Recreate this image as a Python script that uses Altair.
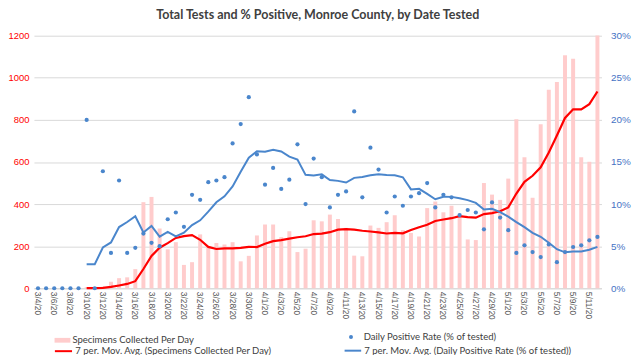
import altair as alt
import pandas as pd

# Category labels: one per day from 3/4/20 to 5/12/20
dates = [f"{d.month}/{d.day}/20" for d in pd.date_range("2020-03-04", "2020-05-12")]

# Specimens collected per day
specimens = [
    0, 0, 0, 0, 0, 0, 5, 2, 7, 31,
    48, 52, 91, 409, 434, 284, 185, 219, 111, 124,
    256, 196, 215, 208, 219, 128, 154, 251, 303, 303,
    243, 271, 172, 188, 323, 318, 350, 329, 287, 155,
    152, 298, 287, 314, 347, 276, 263, 246, 381, 412,
    361, 392, 342, 232, 229, 500, 445, 420, 521, 803,
    623, 430, 779, 943, 980, 1107, 1090, 623, 601, 1201,
]

# Daily positive rate, % of tested
pos_rate = [
    0, 0, 0, 0, 0, 0, 20.0, 0, 13.9, 4.2,
    12.8, 4.2, 4.8, 6.5, 5.4, 5.0, 8.2, 9.0, 7.3, 11.1,
    10.5, 12.6, 12.8, 13.2, 17.2, 19.5, 22.7, 15.9, 12.3, 14.3,
    11.8, 12.9, 17.1, 10.0, 15.4, 13.2, 9.6, 11.1, 11.5, 21.0,
    10.8, 16.7, 14.1, 9.0, 10.9, 9.8, 10.9, 11.3, 12.5, 9.6,
    11.1, 10.8, 8.7, 9.3, 9.0, 7.0, 10.2, 8.4, 6.9, 4.2,
    5.1, 4.3, 3.7, 5.2, 3.1, 4.3, 4.9, 5.1, 5.7, 6.1,
]

left_ticks = [0, 200, 400, 600, 800, 1000, 1200]
right_ticks = [0, 5, 10, 15, 20, 25, 30]

df = pd.DataFrame({"idx": list(range(len(dates))), "date": dates,
                   "spec": specimens, "rate": pos_rate})

W, H = 573, 255
FONT = "Lato"
AXFONT = "Liberation Sans"
PINK = "#FFCCCC"
RED = "#FF0000"
BLUE = "#4A86CC"

xenc = alt.X(
    "date:O", sort=None,
    scale=alt.Scale(domain=dates, paddingInner=0, paddingOuter=0),
    axis=alt.Axis(values=dates[::2], labelAngle=90, labelFont=AXFONT,
                  labelFontSize=8.5, labelColor="#595959", ticks=False,
                  domainColor="#D9D9D9", grid=False, title=None,
                  labelPadding=3, labelOverlap=False),
)

left_axis = alt.Axis(values=left_ticks, orient="left", grid=True,
                     gridColor="#D9D9D9", domain=False, ticks=False,
                     labelColor=RED, labelFont=AXFONT, labelFontSize=9.5,
                     labelPadding=5, format="d", title=None)
right_axis = alt.Axis(values=right_ticks, orient="right", grid=False,
                      domain=False, ticks=False, labelColor="#4472C4",
                      labelFont=AXFONT, labelFontSize=10, labelPadding=9,
                      labelExpr="datum.value + '%'", title=None)

yl = alt.Scale(domain=[0, 1200])
yr = alt.Scale(domain=[0, 30])


def leg(x, y, **kw):
    return alt.Legend(orient="none", legendX=x, legendY=y, title=None,
                      labelFont=FONT, labelFontSize=9.6, labelColor="#404040",
                      labelLimit=400, padding=0, **kw)


bars = (
    alt.Chart(df)
    .transform_calculate(series='"Specimens Collected Per Day"')
    .mark_bar(size=4)
    .encode(
        x=xenc,
        y=alt.Y("spec:Q", scale=yl, axis=left_axis),
        color=alt.Color("series:N", scale=alt.Scale(range=[PINK]),
                        legend=leg(20.8, 299.5, symbolType="M-1,-0.3H1V0.3H-1Z",
                                   symbolSize=256, labelOffset=2,
                                   symbolStrokeWidth=0)),
    )
)

redline = (
    alt.Chart(df)
    .transform_window(ma="mean(spec)", frame=[-6, 0], sort=[{"field": "idx"}])
    .transform_filter("datum.idx >= 6")
    .transform_calculate(series='"7 per. Mov. Avg. (Specimens Collected Per Day)"')
    .mark_line(strokeWidth=2.2)
    .encode(
        x=xenc,
        y=alt.Y("ma:Q", scale=yl, axis=left_axis),
        color=alt.Color("series:N", scale=alt.Scale(range=[RED]),
                        legend=leg(19.8, 308.5, symbolType="stroke", symbolSize=300,
                                   symbolStrokeWidth=2, labelOffset=2)),
    )
)

dots = (
    alt.Chart(df)
    .transform_calculate(series='"Daily Positive Rate (% of tested)"')
    .mark_circle(size=18, opacity=1)
    .encode(
        x=xenc,
        y=alt.Y("rate:Q", scale=yr, axis=right_axis),
        color=alt.Color("series:N", scale=alt.Scale(range=[BLUE]),
                        legend=leg(315.3, 299.5, symbolType="circle", symbolSize=16,
                                   labelOffset=8, symbolStrokeWidth=0)),
    )
)

blueline = (
    alt.Chart(df)
    .transform_window(ma="mean(rate)", frame=[-6, 0], sort=[{"field": "idx"}])
    .transform_filter("datum.idx >= 6")
    .transform_calculate(series='"7 per. Mov. Avg. (Daily Positive Rate (% of tested))"')
    .mark_line(strokeWidth=2)
    .encode(
        x=xenc,
        y=alt.Y("ma:Q", scale=yr, axis=right_axis),
        color=alt.Color("series:N", scale=alt.Scale(range=[BLUE]),
                        legend=leg(312.5, 308.5, symbolType="stroke", symbolSize=280,
                                   symbolStrokeWidth=2, labelOffset=2)),
    )
)

left = alt.layer(bars, redline).resolve_scale(color="independent")
right = alt.layer(dots, blueline).resolve_scale(color="independent")

chart = (
    alt.layer(left, right)
    .resolve_scale(y="independent", color="independent")
    .properties(
        width=W, height=H,
        title=alt.TitleParams("Total Tests and % Positive, Monroe County, by Date Tested",
                              font=FONT, fontSize=12.6, fontWeight="bold",
                              color="#404040", anchor="middle", offset=9),
        autosize=alt.AutoSizeParams(type="none"),
        padding={"left": 26.2, "top": 26.3, "right": 30.8, "bottom": 65.7},
    )
    .configure_view(stroke=None)
)

chart.save("out.html", embed_options={"renderer": "svg", "actions": False})
